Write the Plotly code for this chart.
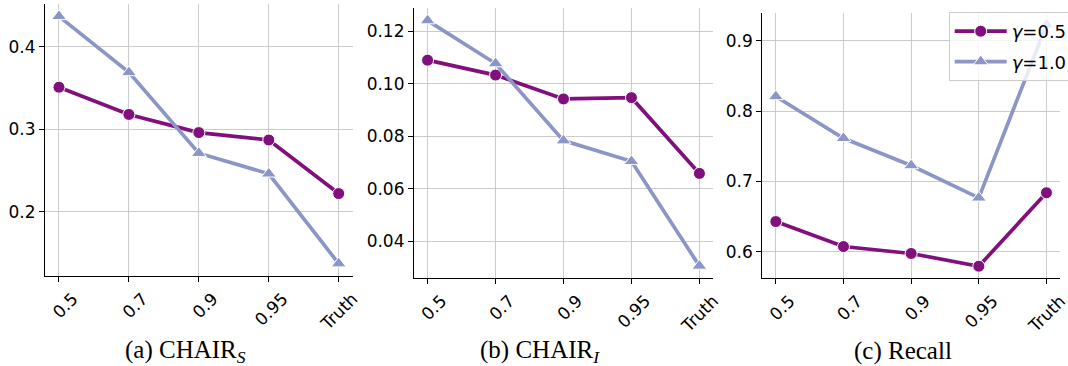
import plotly.graph_objects as go

categories = ["0.5", "0.7", "0.9", "0.95", "Truth"]

chair_s_g05 = [0.351, 0.318, 0.296, 0.287, 0.222]
chair_s_g10 = [0.437, 0.369, 0.271, 0.246, 0.137]

chair_i_g05 = [0.109, 0.1033, 0.0942, 0.0947, 0.0658]
chair_i_g10 = [0.1241, 0.1077, 0.0783, 0.0704, 0.0305]

recall_g05 = [0.643, 0.6075, 0.5976, 0.5795, 0.684]
recall_g10 = [0.821, 0.7616, 0.7228, 0.6768, 0.923]

yticks_s = [0.2, 0.3, 0.4]
yticks_i = [0.04, 0.06, 0.08, 0.10, 0.12]
yticks_r = [0.6, 0.7, 0.8, 0.9]

captions = ["(a) CHAIR<sub><i>S</i></sub>", "(b) CHAIR<sub><i>I</i></sub>", "(c) Recall"]
series_names = ["<i>γ</i>=0.5", "<i>γ</i>=1.0"]

PURPLE = "#810f7c"
BLUE = "#8c96c6"
W, H = 1068, 366

# pixel boxes of each axes (left, right, top, bottom)
boxes = [(45, 352.7, 4, 276), (414, 713, 8.3, 278.2), (762.3, 1060, 12.7, 278.3)]
caption_x = [185, 540, 903]

fig = go.Figure()
xs = list(range(len(categories)))

panels = [
    (chair_s_g05, chair_s_g10, yticks_s, ["0.2", "0.3", "0.4"]),
    (chair_i_g05, chair_i_g10, yticks_i, ["0.04", "0.06", "0.08", "0.10", "0.12"]),
    (recall_g05, recall_g10, yticks_r, ["0.6", "0.7", "0.8", "0.9"]),
]

for i, (a, b, yt, ytt) in enumerate(panels):
    sfx = "" if i == 0 else str(i + 1)
    for vals, color, sym, size, name, grp in [
        (a, PURPLE, "circle", 12, series_names[0], "g1"),
        (b, BLUE, "triangle-up", 13, series_names[1], "g2"),
    ]:
        fig.add_trace(go.Scatter(
            x=xs, y=vals, mode="lines+markers", name=name,
            legendgroup=grp, showlegend=(i == 2),
            line=dict(color=color, width=3.7),
            marker=dict(symbol=sym, size=size, color=color,
                        line=dict(color="white", width=1)),
            xaxis="x" + sfx, yaxis="y" + sfx,
        ))
    lo = min(a + b); hi = max(a + b); sp = hi - lo
    l, r, t, btm = boxes[i]
    axis_common = dict(showline=True, linecolor="black", linewidth=1.2,
                       ticks="outside", ticklen=5, tickwidth=1.2, tickcolor="black",
                       showgrid=True, gridcolor="#cbcbcb", gridwidth=1,
                       zeroline=False, automargin=False, ticklabeloverflow="allow",
                       tickfont=dict(family="DejaVu Sans", size=17, color="black"),
                       mirror=False)
    fig.update_layout(**{
        "xaxis" + sfx: dict(axis_common, domain=[l / W, r / W], anchor="y" + sfx,
                            range=[-0.2, 4.2], tickvals=xs, ticktext=categories,
                            tickangle=-45, ticklabelshift=14),
        "yaxis" + sfx: dict(axis_common, domain=[1 - btm / H, 1 - t / H], anchor="x" + sfx,
                            range=[lo - 0.05 * sp, hi + 0.05 * sp],
                            tickvals=yt, ticktext=ytt),
    })
    fig.add_annotation(text=captions[i], xref="paper", yref="paper",
                       x=caption_x[i] / W, y=1 - 351 / H, xanchor="center", yanchor="middle",
                       showarrow=False,
                       font=dict(family="Liberation Serif", size=25, color="black"))

fig.update_layout(
    width=W, height=H, margin=dict(l=0, r=0, t=0, b=0, pad=0, autoexpand=False),
    plot_bgcolor="white", paper_bgcolor="white",
    legend=dict(x=948.7 / W, y=1 - 12 / H, xanchor="left", yanchor="top",
                bgcolor="rgba(255,255,255,0.8)", bordercolor="#cccccc", borderwidth=1,
                font=dict(family="DejaVu Sans", size=18, color="black"),
                tracegroupgap=4, itemwidth=52),
)

fig.write_html("out.html", config={"displayModeBar": False},
               post_script="document.body.style.margin='0px';document.body.style.padding='0px';")
